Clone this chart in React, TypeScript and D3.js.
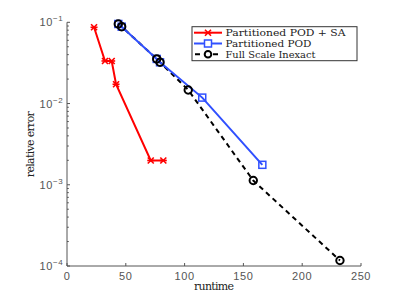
import React from "react";
import * as d3 from "d3";

const redX = [23.0, 32.3, 38.0, 41.7, 71.2, 81.9];
const redY = [0.0868, 0.0334, 0.0334, 0.01726, 0.00199, 0.00199];
const blueX = [43.6, 46.5, 76.3, 79.1, 115.0, 166.1];
const blueY = [0.0953, 0.0883, 0.0354, 0.0322, 0.01183, 0.00176];
const blackX = [43.6, 46.5, 76.3, 79.1, 103.1, 158.4, 232.1];
const blackY = [0.0953, 0.0883, 0.0354, 0.0322, 0.01469, 0.001127, 0.000117];
const xTicks = [0, 50, 100, 150, 200, 250];
const yDecades = [-4, -3, -2, -1];
const legendLabels = ["Partitioned POD + SA", "Partitioned POD", "Full Scale Inexact"];
const legendWidths = [120, 86, 90];

const W = 399, H = 300;
const L = 67, R = 361, T = 22.3, B = 266;
const SERIF = "DejaVu Serif";
const SANS = "Liberation Sans";

export default function App() {
  const x = d3.scaleLinear().domain([0, 250]).range([L, R]);
  const y = d3.scaleLog().domain([1e-4, 1e-1]).range([B, T]);
  const line = (xs: number[], ys: number[]) =>
    d3.line<number>().x((_, i) => x(xs[i])).y((v) => y(v))(ys) || "";
  const red = "#ff0000";
  const blue = "#3050ff";
  const axisColor = "#555";
  const minor: number[] = [];
  for (let e = -4; e < -1; e++) for (let m = 2; m <= 9; m++) minor.push(m * Math.pow(10, e));

  const starMarker = (cx: number, cy: number, key: string) => (
    <g key={key} stroke={red} strokeWidth={1.6}>
      <line x1={cx - 3} y1={cy - 3} x2={cx + 3} y2={cy + 3} />
      <line x1={cx - 3} y1={cy + 3} x2={cx + 3} y2={cy - 3} />
      <line x1={cx - 3.5} y1={cy} x2={cx + 3.5} y2={cy} />
    </g>
  );

  const legX = 192, legY = 26.7, legW = 165, legH = 34;
  const rows = [32.7, 43.5, 54.3];

  return (
    <svg width={W} height={H} style={{ position: "absolute", left: 0, top: 0 }}>
      <rect width={W} height={H} fill="#fff" />
      <line x1={L} y1={T} x2={L} y2={B} stroke={axisColor} strokeWidth={1} />
      <line x1={L} y1={B} x2={R} y2={B} stroke={axisColor} strokeWidth={1} />
      {xTicks.map((t) => (
        <g key={"xt" + t}>
          <line x1={x(t)} x2={x(t)} y1={B} y2={B - 3} stroke={axisColor} />
          <text x={x(t)} y={279.5} textAnchor="middle" fontFamily={SANS} fontSize={11} fill="#555" letterSpacing={0.6}>
            {t}
          </text>
        </g>
      ))}
      {yDecades.map((e) => (
        <g key={"yt" + e}>
          <line x1={L} x2={L + 3} y1={y(Math.pow(10, e))} y2={y(Math.pow(10, e))} stroke={axisColor} />
          <text x={39.5} y={y(Math.pow(10, e)) + 4} fontFamily={SANS} fontSize={11} fill="#555" letterSpacing={0.6}>
            10
            <tspan dy={-5} fontSize={8}>{"\u2212" + Math.abs(e)}</tspan>
          </text>
        </g>
      ))}
      {minor.map((v, i) => (
        <line key={"mn" + i} x1={L} x2={L + 1.8} y1={y(v)} y2={y(v)} stroke={axisColor} />
      ))}
      <text x={214} y={290} textAnchor="middle" fontFamily={SERIF} fontSize={11} fill="#222" textLength={40}>
        runtime
      </text>
      <text transform={`translate(34,${(T + B) / 2}) rotate(-90)`} textAnchor="middle" fontFamily={SERIF} fontSize={11} fill="#222" textLength={66}>
        relative error
      </text>

      <path d={line(blackX, blackY)} fill="none" stroke="#000" strokeWidth={2} strokeDasharray="5,4" />
      <path d={line(blueX, blueY)} fill="none" stroke={blue} strokeWidth={2} />
      {blueX.map((v, i) => (
        <rect key={"bs" + i} x={x(v) - 3.5} y={y(blueY[i]) - 3.5} width={7} height={7} fill="none" stroke={blue} strokeWidth={1.5} />
      ))}
      {blackX.map((v, i) => (
        <circle key={"bc" + i} cx={x(v)} cy={y(blackY[i])} r={3.7} fill="none" stroke="#000" strokeWidth={2} />
      ))}
      <path d={line(redX, redY)} fill="none" stroke={red} strokeWidth={2} />
      {redX.map((v, i) => starMarker(x(v), y(redY[i]), "rs" + i))}

      <rect x={legX} y={legY} width={legW} height={legH} fill="#fff" stroke="#333" strokeWidth={1} />
      <line x1={194} x2={222} y1={rows[0]} y2={rows[0]} stroke={red} strokeWidth={2} />
      {starMarker(208, rows[0], "lg0")}
      <line x1={194} x2={222} y1={rows[1]} y2={rows[1]} stroke={blue} strokeWidth={2} />
      <rect x={204.5} y={rows[1] - 3.5} width={7} height={7} fill="#fff" stroke={blue} strokeWidth={1.5} />
      <line x1={194} x2={222} y1={rows[2]} y2={rows[2]} stroke="#000" strokeWidth={2} strokeDasharray="5,4" strokeDashoffset={-1} />
      <circle cx={208} cy={rows[2]} r={3.3} fill="#fff" stroke="#000" strokeWidth={2} />
      {legendLabels.map((s, i) => (
        <text key={"lt" + i} x={225.5} y={rows[i] + 3.6} fontFamily={SERIF} fontSize={9.5} fill="#222" textLength={legendWidths[i]} lengthAdjust="spacingAndGlyphs">
          {s}
        </text>
      ))}
    </svg>
  );
}
